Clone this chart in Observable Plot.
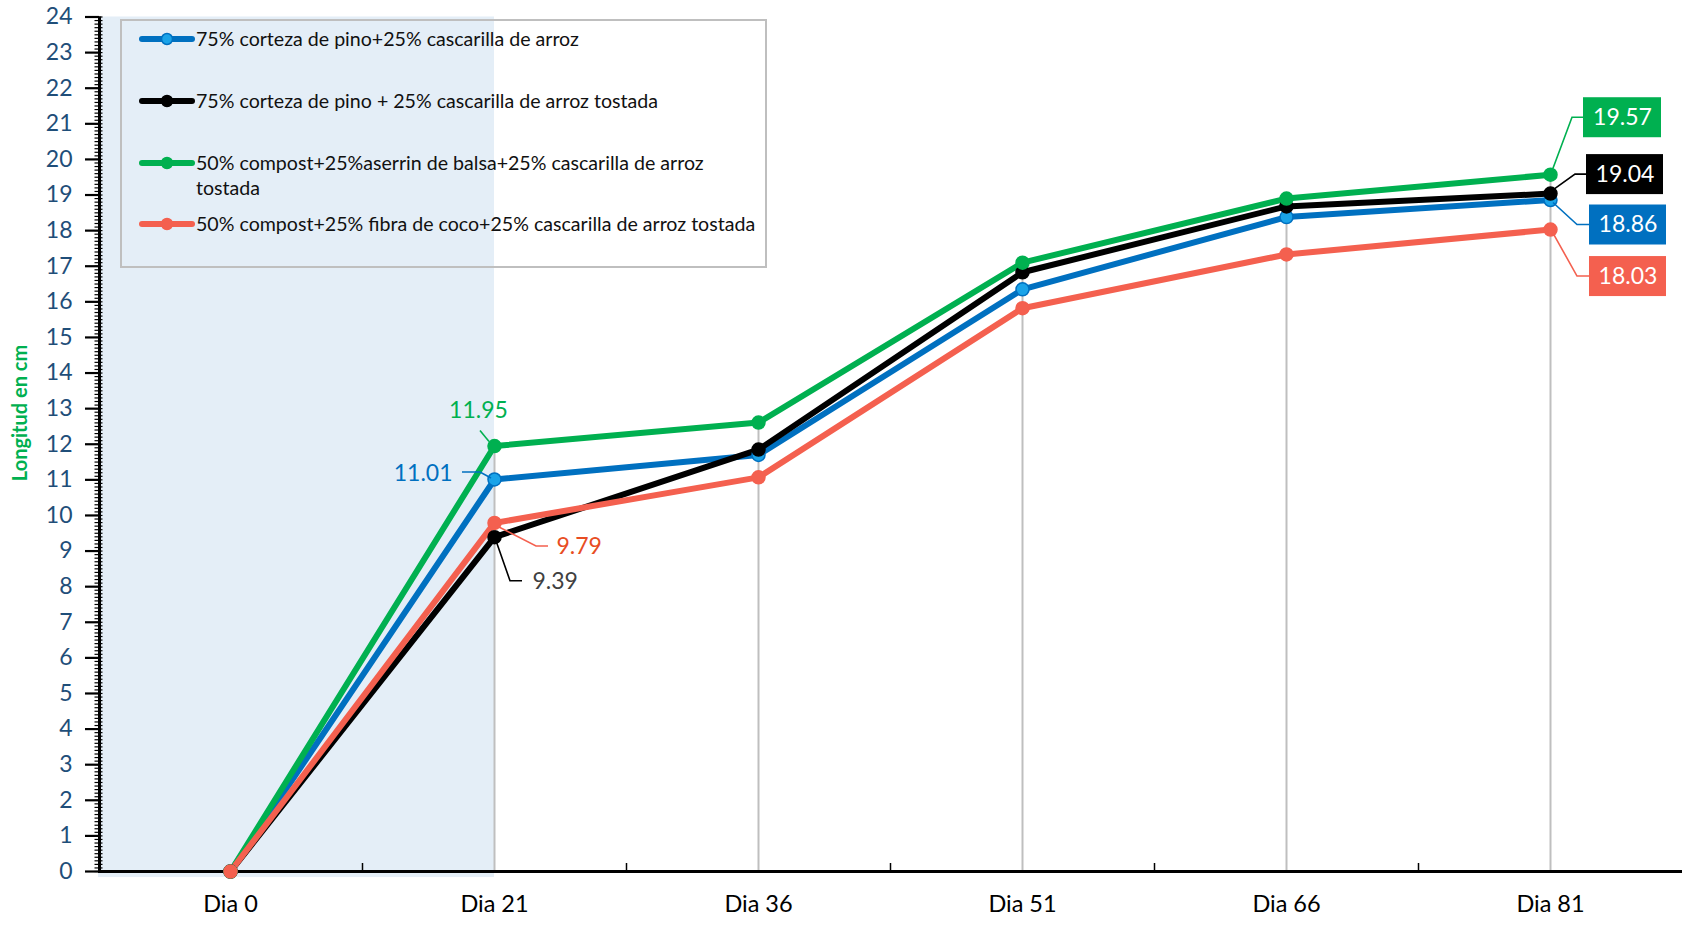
<!DOCTYPE html>
<html><head><meta charset="utf-8">
<script src="https://cdn.jsdelivr.net/npm/d3@7"></script>
<script src="https://cdn.jsdelivr.net/npm/@observablehq/plot@0.6"></script>
<style>
body{margin:0;background:#fff;font-family:Lato,"Open Sans",sans-serif}
#wrap{position:relative;width:1682px;height:926px;overflow:hidden}
#wrap svg.plot{position:absolute;left:0;top:0}
#legend{position:absolute;left:120px;top:19px;width:647px;height:249px;border:2px solid #BFBFBF;box-sizing:border-box}
.item{position:absolute;left:0;font-size:19.6px;color:#111;line-height:25px;white-space:nowrap}
.item svg{position:absolute;left:17px;top:6px}
.item span{position:absolute;left:74px;top:0}
#ytitle{position:absolute;left:19px;top:413px;transform:translate(-50%,-50%) rotate(-90deg);color:#00B050;font-weight:bold;font-size:20px;white-space:nowrap}
</style></head><body><div id="wrap"></div>
<script>
const categories = ["Dia 0","Dia 21","Dia 36","Dia 51","Dia 66","Dia 81"];
const seriesNames = [
  "75% corteza de pino+25% cascarilla de arroz",
  "75% corteza de pino + 25% cascarilla de arroz tostada",
  "50% compost+25%aserrin de balsa+25% cascarilla de arroz tostada",
  "50% compost+25% fibra de coco+25% cascarilla de arroz tostada"
];
const blueValues  = [0, 11.01, 11.70, 16.35, 18.38, 18.86];
const blackValues = [0, 9.39, 11.85, 16.83, 18.68, 19.04];
const greenValues = [0, 11.95, 12.61, 17.10, 18.90, 19.57];
const redValues   = [0, 9.79, 11.07, 15.82, 17.33, 18.03];
const yTicks = d3.range(0, 25, 1);
const yMinorTicks = d3.range(0, 240.5, 1).map(v => v / 10);
const shadeUntil = "Dia 21";

const lineColors = ["#0070C0", "#000000", "#00B050", "#F4604F"];
const markerFill = ["#1AA3E8", "#000000", "#00B050", "#F4604F"];
const allValues = [blueValues, blackValues, greenValues, redValues];

const rows = [];
allValues.forEach((vals, k) => vals.forEach((v, i) => rows.push({k, name: seriesNames[k], i, value: v})));
const drops = categories.map((c, i) => ({i, max: d3.max(allValues, vals => vals[i])})).filter(d => d.i > 0);

// label annotations: series k, category i, offsets in px relative to point
const labelSpecs = [
  {k: 2, i: 1, dx: -16, dy: -35, anchor: "middle", color: "#00B050", path: [[-14,-15],[-5,-4]]},
  {k: 0, i: 1, dx: -42, dy: -6, anchor: "end", color: "#0070C0", path: [[-32,-7],[-14,-7],[-3,-1]]},
  {k: 3, i: 1, dx: 62, dy: 23.5, anchor: "start", color: "#E84C22", lineColor: "#F4604F", path: [[4,4],[42,23.5],[54,23.5]]},
  {k: 1, i: 1, dx: 38, dy: 44, anchor: "start", color: "#404040", lineColor: "#000", path: [[2,4],[16,44],[28,44]]},
  {k: 2, i: 5, dx: 72, dy: -57, box: [33,-77,78,40], color: "#fff", lineColor: "#00B050", path: [[3,-6],[22,-57],[33,-57]]},
  {k: 1, i: 5, dx: 74.5, dy: -19, box: [36,-39,77,40], color: "#fff", lineColor: "#000", path: [[4,-4],[25,-19],[36,-19]]},
  {k: 0, i: 5, dx: 77.5, dy: 25, box: [39,5,77,40], color: "#fff", lineColor: "#0070C0", path: [[3,3],[27,25],[39,25]]},
  {k: 3, i: 5, dx: 77.5, dy: 47, box: [39,27,77,40], color: "#fff", lineColor: "#F4604F", path: [[3,4],[27,47],[39,47]]}
];

function annotations(index, scales) {
  const g = d3.create("svg:g");
  for (const s of labelSpecs) {
    const px = scales.x(s.i), py = scales.y(allValues[s.k][s.i]);
    g.append("polyline")
      .attr("points", s.path.map(([a, b]) => `${px + a},${py + b}`).join(" "))
      .attr("fill", "none").attr("stroke", s.lineColor || s.color).attr("stroke-width", 1.6);
    if (s.box) {
      g.append("rect").attr("x", px + s.box[0]).attr("y", py + s.box[1])
        .attr("width", s.box[2]).attr("height", s.box[3]).attr("fill", lineColors[s.k]);
    }
  }
  return g.node();
}

const shadeEnd = categories.indexOf(shadeUntil);

const plot = Plot.plot({
  width: 1682, height: 926,
  marginLeft: 98, marginRight: 0, marginTop: 16.5, marginBottom: 55,
  style: {fontFamily: "Lato, 'Open Sans', sans-serif", background: "transparent"},
  x: {type: "linear", domain: [-0.5, categories.length - 0.5], label: null},
  y: {domain: [0, 24], label: null},
  color: {domain: seriesNames, range: lineColors},
  marks: [
    Plot.rect([{}], {x1: -0.5, x2: shadeEnd, y1: -0.17, y2: 24, fill: "#E4EEF7"}),
    Plot.ruleX(drops, {x: "i", y1: 0, y2: "max", stroke: "#BFBFBF", strokeWidth: 2}),
    Plot.axisY(yMinorTicks, {anchor: "left", tickSize: 8, dx: 4.5, tickFormat: () => "", stroke: "#000", strokeWidth: 1.2}),
    Plot.axisY(yTicks, {anchor: "left", tickSize: 14, dx: 1, tickPadding: 13, fontSize: 23, fill: "#1F4E79", stroke: "#000", strokeWidth: 2.2}),
    Plot.ruleX([-0.5], {y1: 0, y2: 24, stroke: "#000", strokeWidth: 3, dx: 1}),
    Plot.ruleY([0], {stroke: "#000", strokeWidth: 3}),
    Plot.axisX(d3.range(0.5, categories.length - 0.5, 1), {anchor: "bottom", tickSize: 8, dy: -8, tickFormat: () => "", stroke: "#000", strokeWidth: 1.5}),
    Plot.axisX(d3.range(0, categories.length), {anchor: "bottom", tickSize: 0, tickPadding: 24, tickFormat: i => categories[i], fontSize: 23.5, fill: "#000"}),
    Plot.line(rows, {x: "i", y: "value", z: "k", stroke: d => lineColors[d.k], strokeWidth: 6, strokeLinejoin: "round", strokeLinecap: "round"}),
    Plot.dot(rows, {x: "i", y: "value", r: 6.5, fill: d => markerFill[d.k], stroke: d => lineColors[d.k], strokeWidth: 1.5}),
    annotations,
    ...labelSpecs.map(s => Plot.text([s], {
      x: "i", y: d => allValues[d.k][d.i], text: d => allValues[d.k][d.i].toFixed(2),
      dx: s.dx, dy: s.dy, textAnchor: s.anchor || "middle", fill: s.color, fontSize: 23
    }))
  ]
});
plot.classList.add("plot");
const wrap = document.getElementById("wrap");
wrap.appendChild(plot);

const legend = document.createElement("div");
legend.id = "legend";
const rowTops = [5, 67, 129, 190];
seriesNames.forEach((name, k) => {
  const it = document.createElement("div");
  it.className = "item";
  it.style.top = rowTops[k] + "px";
  const parts = k === 2 ? ["50% compost+25%aserrin de balsa+25% cascarilla de arroz", "tostada"] : [name];
  it.innerHTML = `<svg width="56" height="14"><line x1="3" y1="7" x2="53" y2="7" stroke="${lineColors[k]}" stroke-width="6" stroke-linecap="round"/><circle cx="28" cy="7" r="5.5" fill="${markerFill[k]}" stroke="${lineColors[k]}" stroke-width="1.5"/></svg><span>${parts.join("<br>")}</span>`;
  legend.appendChild(it);
});
wrap.appendChild(legend);

const yt = document.createElement("div");
yt.id = "ytitle";
yt.textContent = "Longitud en cm";
wrap.appendChild(yt);
</script>
</body></html>
